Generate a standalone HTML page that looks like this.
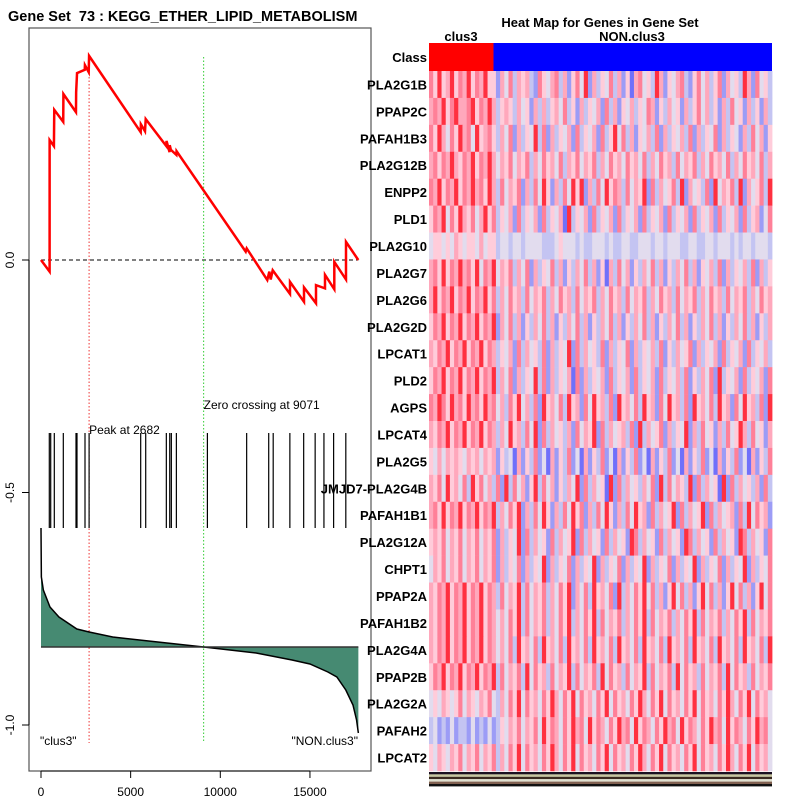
<!DOCTYPE html>
<html><head><meta charset="utf-8"><style>
body{margin:0;background:#fff;width:800px;height:800px;overflow:hidden}
svg{display:block;font-family:"Liberation Sans",sans-serif}
</style></head><body>
<svg id="chart" width="800" height="800" xmlns="http://www.w3.org/2000/svg">
<text x="8" y="21" font-size="14.5" font-weight="bold" style="white-space:pre">Gene Set  73 : KEGG_ETHER_LIPID_METABOLISM</text>
<rect x="29" y="28" width="342" height="743" fill="none" stroke="#555" stroke-width="1.2"/>
<g id="axes"></g>
<g id="lefts"></g>
<text x="600" y="27" font-size="13" font-weight="bold" text-anchor="middle">Heat Map for Genes in Gene Set</text>
<text x="461" y="41" font-size="13" font-weight="bold" text-anchor="middle">clus3</text>
<text x="632" y="41" font-size="13" font-weight="bold" text-anchor="middle">NON.clus3</text>
<g id="heat"></g>
</svg>
<script>
const xTicks=[0,5000,10000,15000];
const yTicks=[0.0,-0.5,-1.0];
const yTickLabels=["0.0","-0.5","-1.0"];
const esRank=[0,480,481,720,740,1240,1250,1950,1960,2010,2440,2450,2660,2682,5560,5570,5800,5840,6990,7000,7170,7180,7260,7270,7550,7560,11417,11472,12621,12733,12811,12923,13887,13888,14668,14669,15337,15338,15839,15840,16358,16359,17010,17011,17697];
const esValue=[0,-0.025,0.258,0.245,0.323,0.297,0.357,0.318,0.361,0.402,0.409,0.419,0.404,0.439,0.275,0.292,0.277,0.303,0.245,0.256,0.232,0.247,0.234,0.236,0.226,0.234,0.018,0.025,-0.043,-0.025,-0.042,-0.022,-0.073,-0.047,-0.090,-0.059,-0.093,-0.054,-0.061,-0.032,-0.063,-0.004,-0.042,0.039,0];
const hitRanks=[463,541,742,1244,1952,2008,2454,2682,5560,5840,6990,7180,7270,7550,9280,11470,12700,12950,13880,14650,15290,15780,16320,17000];
const metricRank=[0,20,130,500,1000,2000,2682,4000,6000,9071,12000,14000,15000,16000,16500,17000,17400,17600,17700];
const metricValue=[1.19,0.70,0.57,0.40,0.30,0.18,0.15,0.10,0.06,0,-0.06,-0.13,-0.17,-0.25,-0.30,-0.43,-0.58,-0.73,-0.86];
const peakRank=2682, zeroRank=9071;
const genes=["PLA2G1B","PPAP2C","PAFAH1B3","PLA2G12B","ENPP2","PLD1","PLA2G10","PLA2G7","PLA2G6","PLA2G2D","LPCAT1","PLD2","AGPS","LPCAT4","PLA2G5","JMJD7-PLA2G4B","PAFAH1B1","PLA2G12A","CHPT1","PPAP2A","PAFAH1B2","PLA2G4A","PPAP2B","PLA2G2A","PAFAH2","LPCAT2"];
const heatRows=[
"7585685768576855264736563275467362574826354736251674538625467325746357264538627453",
"6768578667857686356536452636356473526354627362546354762536452635746352637452635263",
"7586475867485675364726354837263546273546273584736254637263546372635472635426374625",
"6757686576857686465746573647564736574657364756475647364756374657364756473647564736",
"7685768576867586374657263748526374858263748576374658273645738264537284657382645738",
"5768475865746857354627354627354618354627354627354627354627354627354627354627356247",
"4554546545546455344344344443334544434334443433443344434434443344334434443434434443",
"6758576867584768465736472635473625364736251637462536473625364736254637263546372635",
"6857685768576857364756374657364756374657364756374657364756374657364756374657364756",
"5768576857685768264736253647362536473625364736253647362536473625364736253647362536",
"6576857685768576354627364537263548273645372635472635463725364572635462735462735463",
"5768576857685768364726354837263546172635462735462735462735463725364728354627354627",
"7687586758675867463758463728564738562748563728564738562748563728564738562748563728",
"6576857685768576364856374827364536274658273645637283645726354826374526374586374526",
"5464656546564656253416253724162537241625372416253724162537241625372416253724162537",
"6574856473857463728374625837462536482736451827364536472837465382736451827364536273",
"6758576857685768364758263748526374857263748526374856273645827364582736456273847562",
"5657465746574657263548273645273645827364527364528736452736452873645273645287364527",
"4657465746574657263547263548263547263548263547263548263547263548263547263548263547",
"6576857685768576374658374657364758264738564728364758473625847362584736258473625847",
"6576857685768576464758374657364758364758374657364758374657364758374657364758374657",
"6576857685768576464738564738564738564738564738564738564738564738564738564738564738",
"5768576857685768374657384756374658374657384756374658374657384756374657384756374657",
"4546545746546574364758475647586475847564758475647586475847564758475647586475847564",
"3423242332423242354657465748576475867485764758674857647586748576475867485764758674",
"5465465746574657364758475647586475847564758475647586475847564758475647586475847564"];
const NS='http://www.w3.org/2000/svg';
function mk(tag,attrs,parent,text){const e=document.createElementNS(NS,tag);for(const k in attrs)e.setAttribute(k,attrs[k]);if(text!==undefined)e.textContent=text;parent.appendChild(e);return e;}
const X0=41,XS=0.01793,Y0=260,YS=465;
const xs=r=>X0+r*XS, ys=v=>Y0-v*YS;
const mBase=647, mS=100, ms=v=>mBase-v*mS;
const axes=document.getElementById('axes'), L=document.getElementById('lefts'), H=document.getElementById('heat');
let xa=mk('line',{x1:xs(0),x2:xs(15000),y1:771,y2:771,stroke:'#000'},axes);


xTicks.forEach(t=>{
 const l=mk('line',{x1:xs(t),x2:xs(t),y1:771,y2:778,stroke:'#000'},axes);
 
 
 const tx=mk('text',{x:xs(t),y:796,'font-size':12,'text-anchor':'middle'},axes,String(t));
 
 
});
let ya=mk('line',{x1:29,x2:29,y1:ys(0),y2:ys(-1),stroke:'#000'},axes);


yTicks.forEach((t,i)=>{
 const l=mk('line',{x1:22,x2:29,y1:ys(t),y2:ys(t),stroke:'#000'},axes);
 
 
 const tx=mk('text',{x:0,y:0,'font-size':12,'text-anchor':'middle',transform:`translate(14,${ys(t)}) rotate(-90)`},axes,yTickLabels[i]);
 
 
});
let zl=mk('line',{x1:xs(0),x2:xs(esRank[esRank.length-1]),y1:ys(0),y2:ys(0),stroke:'#000','stroke-dasharray':'4,3'},L);


let pl=mk('line',{x1:xs(peakRank),x2:xs(peakRank),y1:56,y2:743,stroke:'#e33','stroke-dasharray':'1.5,2'},L);


let zc=mk('line',{x1:xs(zeroRank),x2:xs(zeroRank),y1:57,y2:743,stroke:'#3c3','stroke-dasharray':'1.5,2'},L);


let pt=mk('text',{x:xs(peakRank),y:434,'font-size':12},L,'Peak at '+peakRank);


let zt=mk('text',{x:xs(zeroRank),y:409,'font-size':12},L,'Zero crossing at '+zeroRank);


let d='M'+xs(metricRank[0])+','+mBase;
metricRank.forEach((r,i)=>{d+=' L'+xs(r)+','+ms(metricValue[i]);});
d+=' L'+xs(metricRank[metricRank.length-1])+','+mBase+' Z';
let ar=mk('path',{d:d,fill:'#468a72',stroke:'none'},L);


let ml=mk('polyline',{points:metricRank.map((r,i)=>xs(r)+','+ms(metricValue[i])).join(' '),fill:'none',stroke:'#000','stroke-width':1.5},L);


let bl=mk('line',{x1:xs(0),x2:xs(metricRank[metricRank.length-1]),y1:mBase,y2:mBase,stroke:'#333','stroke-width':1.5},L);


hitRanks.forEach(r=>{
 const h=mk('line',{x1:xs(r),x2:xs(r),y1:433,y2:528,stroke:'#000','stroke-width':1.2},L);
 
 
});
let es=mk('polyline',{points:esRank.map((r,i)=>xs(r)+','+ys(esValue[i])).join(' '),fill:'none',stroke:'#f00','stroke-width':2.5},L);


let c1=mk('text',{x:40,y:745,'font-size':12},L,'"clus3"');


let c2=mk('text',{x:358,y:745,'font-size':12,'text-anchor':'end'},L,'"NON.clus3"');


const HX0=429,HX1=772,HY0=71,RH=(771-71)/genes.length;
const clusFrac=0.188;
let cr=mk('rect',{x:HX0,y:43,width:(HX1-HX0)*clusFrac,height:28,fill:'#f00'},H);


let cb=mk('rect',{x:HX0+(HX1-HX0)*clusFrac,y:43,width:(HX1-HX0)*(1-clusFrac),height:28,fill:'#00f'},H);


let cl=mk('text',{x:427,y:62,'font-size':13,'font-weight':'bold','text-anchor':'end'},H,'Class');


const palette=['#2828ff','#7070fa','#9c9cf6','#c4c4f2','#e2dcee','#ffccda','#ffa8bc','#ff8098','#ff3040'];
function col(v){return palette[Math.max(0,Math.min(8,v))];}
genes.forEach((gname,i)=>{
 const y=HY0+i*RH, s=heatRows[i], n=s.length, w=(HX1-HX0)/n;
 for(let j=0;j<n;j++){
  const c=mk('rect',{x:HX0+j*w,y:y,width:w+0.4,height:RH+0.3,fill:col(+s[j])},H);
  
  
 }
 const t=mk('text',{x:427,y:y+RH/2+5,'font-size':13,'font-weight':'bold','text-anchor':'end'},H,gname);
 
 
});
const stripeColors=['#1a1020','#c8c8a0','#3a2a20','#e0e0d0','#806050','#101010'];
stripeColors.forEach((c,i)=>{
 const r=mk('rect',{x:HX0,y:772+i*2.4,width:HX1-HX0,height:2.4,fill:c},H);
 
 
});
</script>
</body></html>
